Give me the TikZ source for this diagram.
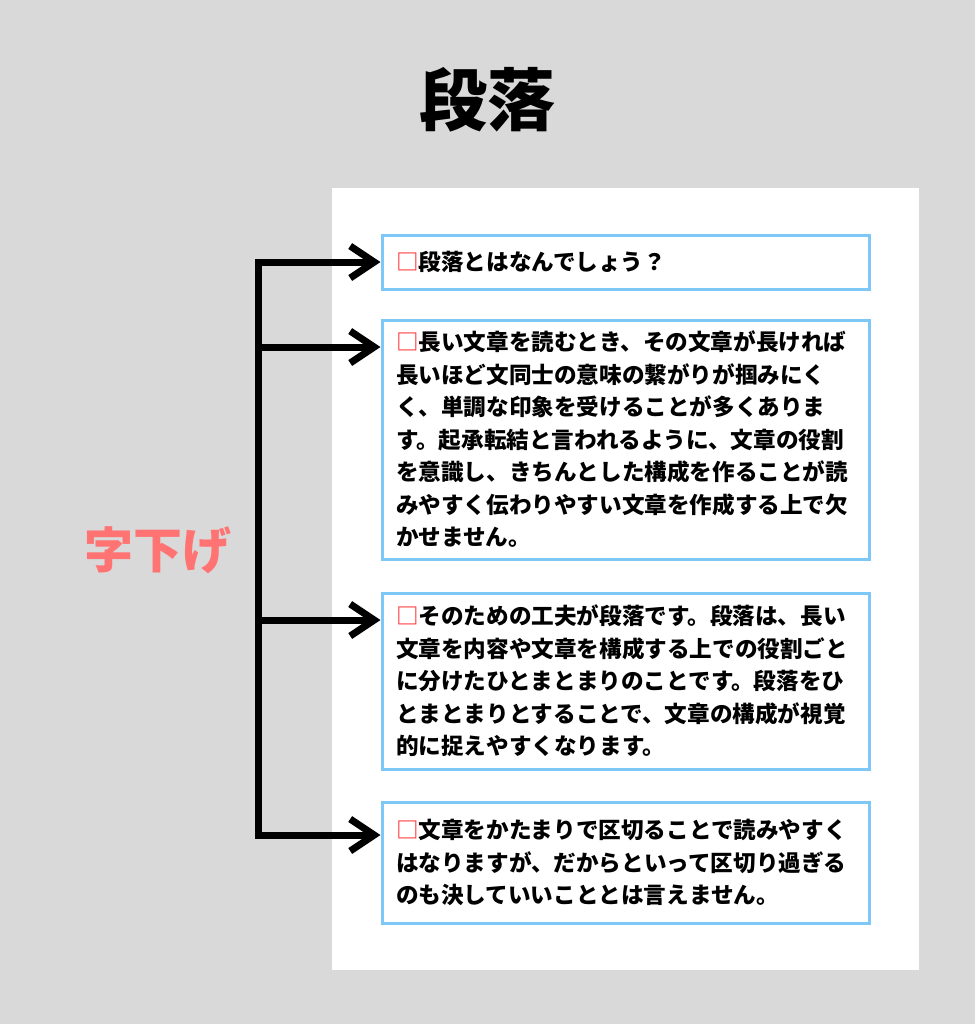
\documentclass[tikz,border=0pt]{standalone}
\usepackage{fontspec}
\newfontfamily\jp{Noto Sans CJK JP}
\usetikzlibrary{arrows.meta}
\definecolor{bggray}{HTML}{D9D9D9}
\definecolor{boxblue}{HTML}{7DC8F7}
\definecolor{labelred}{HTML}{FF7373}
\definecolor{markred}{HTML}{FF4040}
\newcommand{\mk}{\textcolor{markred}{□}}
\begin{document}
\begin{tikzpicture}
[x=0.5pt,y=-0.5pt,
 every node/.style={font=\jp\bfseries},
 textbox/.style={draw=boxblue,line width=1.5pt,fill=white,anchor=north west,
   text width=229.5pt,inner xsep=7pt,inner ysep=0pt,align=left,
   font=\jp\bfseries\fontsize{11.3}{16.25}\selectfont},
 arrowline/.style={line width=3.5pt},
 pointer/.style={arrowline,-{Straight Barb[length=12pt,width=16pt]}}]
    \fill[bggray] (0,0) rectangle (975,1024);
    \fill[white] (332,188) rectangle (919,970);
    \node (title) at (487,100) {\fontsize{34}{40}\selectfont 段落};
    \node[text=labelred,font=\jp\bfseries\fontsize{24.5}{28}\selectfont] (indent) at (158,550) {字下げ};
    \node[textbox,minimum height=27pt] (b1) at (380.5,233.5)
        {\mk 段落とはなんでしょう？};
    \node[textbox,minimum height=119.5pt] (b2) at (380.5,318.5)
        {\mk 長い文章を読むとき、その文章が長ければ\\
         長いほど文同士の意味の繋がりが掴みにく\\
         く、単調な印象を受けることが多くありま\\
         す。起承転結と言われるように、文章の役割\\
         を意識し、きちんとした構成を作ることが読\\
         みやすく伝わりやすい文章を作成する上で欠\\
         かせません。};
    \node[textbox,minimum height=88pt] (b3) at (380.5,591.5)
        {\mk そのための工夫が段落です。段落は、長い\\
         文章を内容や文章を構成する上での役割ごと\\
         に分けたひとまとまりのことです。段落をひ\\
         とまとまりとすることで、文章の構成が視覚\\
         的に捉えやすくなります。};
    \node[textbox,minimum height=60.5pt] (b4) at (380.5,800.5)
        {\mk 文章をかたまりで区切ることで読みやすく\\
         はなりますが、だからといって区切り過ぎる\\
         のも決していいこととは言えません。};
    \coordinate (spine) at (258,0);
    \foreach \b/\d in {b1/14.25,b2/14.25,b3/14.25,b4/17.25}
        \coordinate (\b t) at ([yshift=-\d pt]\b.north west);
    \draw[pointer] (b4t -| spine) -- (b1t -| spine) -- (b1t);
    \draw[pointer] (b1t -| spine) -- (b4t -| spine) -- (b4t);
    \draw[pointer] (b2t -| spine) -- (b2t);
    \draw[pointer] (b3t -| spine) -- (b3t);
\end{tikzpicture}
\end{document}
